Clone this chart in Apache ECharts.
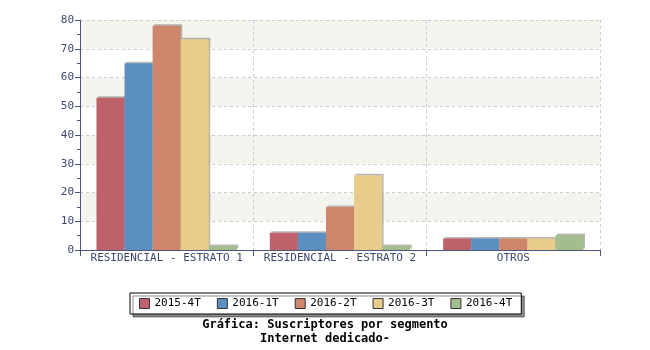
<!DOCTYPE html>
<html>
<head>
<meta charset="utf-8">
<script src="https://cdn.jsdelivr.net/npm/echarts@6/dist/echarts.min.js"></script>
<style>html,body{margin:0;padding:0;background:#fff}#c{width:650px;height:350px}</style>
</head>
<body>
<div id="c"></div>
<script>
// Segment categories and quarterly subscriber values
const categories = ['RESIDENCIAL - ESTRATO 1', 'RESIDENCIAL - ESTRATO 2', 'OTROS'];
const quarters = ['2015-4T', '2016-1T', '2016-2T', '2016-3T', '2016-4T'];
const q2015_4 = [53, 6, 4];
const q2016_1 = [65, 6, 4];
const q2016_2 = [78, 15, 4];
const q2016_3 = [73.3, 26, 4];
const q2016_4 = [1.4, 1.4, 5.2];
const yTicks = [0, 10, 20, 30, 40, 50, 60, 70, 80];

const seriesValues = [q2015_4, q2016_1, q2016_2, q2016_3, q2016_4];
const colors = ['#bf616a', '#5b8fbf', '#cf876c', '#e9cb8c', '#a3be8c'];
const axisColor = '#4a5680';
const textColor = '#3c4870';
const mono = '"DejaVu Sans Mono", "Liberation Mono", monospace';

const chart = echarts.init(document.getElementById('c'));
chart.setOption({
  animation: false,
  color: colors,
  grid: { left: 80, right: 50, top: 20, bottom: 100 },
  title: {
    text: 'Gráfica: Suscriptores por segmento\nInternet dedicado-',
    left: 'center',
    top: 318,
    padding: 0,
    textStyle: { fontFamily: mono, fontSize: 12, fontWeight: 'bold', color: '#000', lineHeight: 14 }
  },
  legend: {
    data: quarters.map(q => ({ name: q, icon: 'rect' })),
    left: 130,
    top: 293,
    itemWidth: 10,
    itemHeight: 10,
    itemGap: 16,
    padding: [5, 9, 5, 9],
    borderColor: '#000',
    borderWidth: 1,
    backgroundColor: '#fff',
    shadowColor: 'rgba(0,0,0,0.45)',
    shadowOffsetX: 3,
    shadowOffsetY: 3,
    shadowBlur: 0,
    itemStyle: { borderColor: '#333', borderWidth: 1 },
    textStyle: { fontFamily: mono, fontSize: 11, color: '#000' }
  },
  xAxis: {
    type: 'category',
    data: categories,
    axisLine: { lineStyle: { color: axisColor, width: 1 } },
    axisTick: { show: true, length: 6, lineStyle: { color: axisColor } },
    axisLabel: { interval: 0, fontFamily: mono, fontSize: 11, color: textColor, margin: 3 },
    splitLine: { show: true, lineStyle: { color: '#cccccc', type: [3, 3] } }
  },
  yAxis: {
    type: 'value',
    min: yTicks[0],
    max: yTicks[yTicks.length - 1],
    interval: 10,
    axisLine: { show: true, lineStyle: { color: axisColor } },
    axisTick: { show: true, length: 5, lineStyle: { color: axisColor } },
    minorTick: { show: true, splitNumber: 2, length: 3, lineStyle: { color: axisColor } },
    axisLabel: { fontFamily: mono, fontSize: 11, color: textColor, margin: 6 },
    splitLine: { show: true, lineStyle: { color: '#cccccc', type: [3, 3] } },
    splitArea: { show: true, areaStyle: { color: ['#ffffff', '#f4f4ef'] } }
  },
  series: quarters.map((q, i) => ({
    name: q,
    type: 'bar',
    data: seriesValues[i],
    barGap: '0%',
    barCategoryGap: '19%',
    itemStyle: {
      color: colors[i],
      shadowColor: 'rgba(80,80,80,0.4)',
      shadowOffsetX: 1.5,
      shadowOffsetY: -1.5,
      shadowBlur: 0
    }
  }))
});
</script>
</body>
</html>
